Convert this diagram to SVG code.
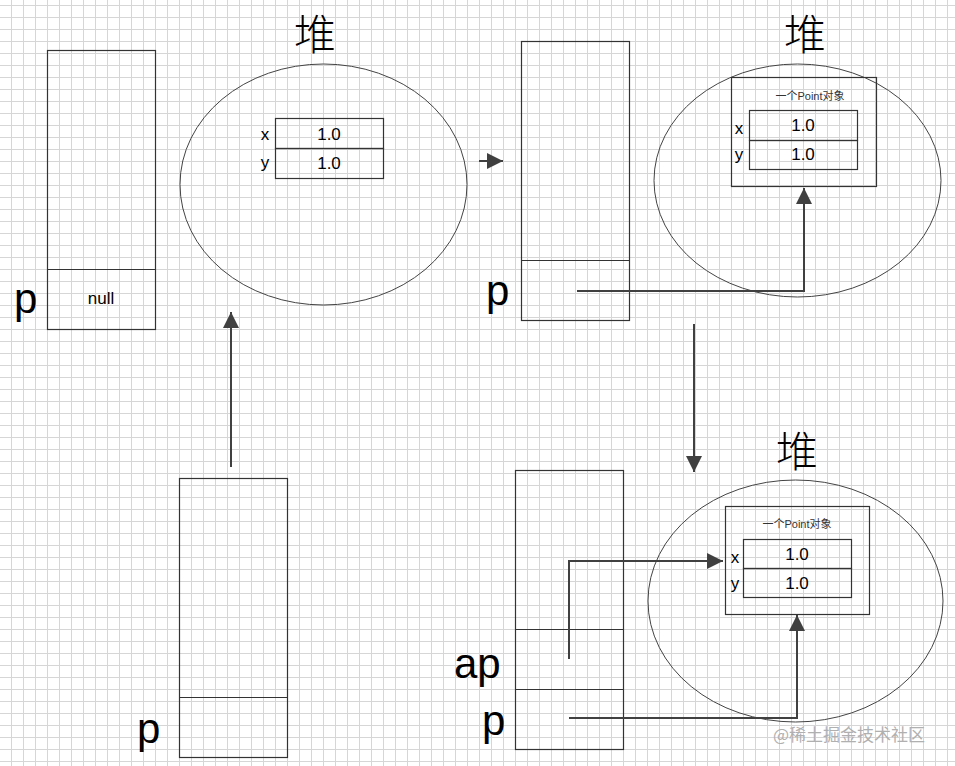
<svg xmlns="http://www.w3.org/2000/svg" width="955" height="766" viewBox="0 0 955 766">
<defs>
<pattern id="grid" patternUnits="userSpaceOnUse" x="0" y="0" width="12" height="12">
<path d="M11.5 0V12M0 5.5H12" stroke="#d6d6d6" stroke-width="1" fill="none"/>
</pattern>
<marker id="ahs" viewBox="0 0 10 10" refX="10" refY="5" markerWidth="8" markerHeight="8" orient="auto" markerUnits="strokeWidth">
<path d="M0 0L10 5L0 10Z" fill="#404040"/>
</marker>
</defs>
<style>
.box{fill:none;stroke:#333;stroke-width:1.2}
.ell{fill:none;stroke:#444;stroke-width:1}
.big{font-family:"Liberation Sans",Arial,sans-serif;font-size:42px;fill:#000}
.heap{font-family:"Noto Sans CJK SC",sans-serif;font-size:42px;font-weight:300;fill:#000;text-anchor:middle}
.val{font-family:"Liberation Sans",Arial,sans-serif;font-size:17px;fill:#000;text-anchor:middle}
.lbl{font-family:"Liberation Sans",Arial,sans-serif;font-size:17px;fill:#000;text-anchor:middle}
.ttl{font-family:"Liberation Sans","Noto Sans CJK SC",sans-serif;font-size:11px;fill:#333;text-anchor:middle}
.con{fill:none;stroke:#404040;stroke-width:2}
.wm{font-family:"Noto Sans CJK SC",sans-serif;font-size:17px;fill:#b0b0b0}
</style>
<rect width="955" height="766" fill="#fff"/>
<rect width="955" height="766" fill="url(#grid)"/>

<g id="stack1">
<rect class="box" x="47.5" y="50.5" width="108" height="279"/>
<line class="box" x1="47.5" y1="269.5" x2="155.5" y2="269.5"/>
<text class="val" x="101" y="304">null</text>
<text class="big" x="14" y="313">p</text>
</g>

<g id="heap1">
<ellipse class="ell" cx="323.5" cy="184.5" rx="143.5" ry="120.5"/>
<text class="heap" x="315" y="50">堆</text>
<rect class="box" x="275.5" y="118.5" width="108" height="30"/>
<rect class="box" x="275.5" y="148.5" width="108" height="30"/>
<text class="val" x="329" y="140">1.0</text>
<text class="val" x="329" y="169">1.0</text>
<text class="lbl" x="265" y="140">x</text>
<text class="lbl" x="265" y="168">y</text>
</g>

<g id="stack2">
<rect class="box" x="521.5" y="41.5" width="108" height="279"/>
<line class="box" x1="521.5" y1="260.5" x2="629.5" y2="260.5"/>
<text class="big" x="486" y="305">p</text>
</g>

<g id="heap2">
<ellipse class="ell" cx="797.5" cy="180.5" rx="143.5" ry="116.5"/>
<text class="heap" x="805" y="50">堆</text>
<rect class="box" x="731.5" y="77.5" width="145" height="109"/>
<text class="ttl" x="810" y="100">一个Point对象</text>
<rect class="box" x="749.5" y="110.5" width="108" height="30"/>
<rect class="box" x="749.5" y="140.5" width="108" height="29"/>
<text class="val" x="803" y="131">1.0</text>
<text class="val" x="803" y="160">1.0</text>
<text class="lbl" x="739" y="134">x</text>
<text class="lbl" x="739" y="160">y</text>
</g>

<g id="stack3">
<rect class="box" x="179.5" y="478.5" width="108" height="279"/>
<line class="box" x1="179.5" y1="697.5" x2="287.5" y2="697.5"/>
<text class="big" x="137" y="743">p</text>
</g>

<g id="stack4">
<rect class="box" x="515.5" y="470.5" width="108" height="279"/>
<line class="box" x1="515.5" y1="629.5" x2="623.5" y2="629.5"/>
<line class="box" x1="515.5" y1="689.5" x2="623.5" y2="689.5"/>
<text class="big" x="454" y="678">ap</text>
<text class="big" x="482" y="735">p</text>
</g>

<g id="heap3">
<ellipse class="ell" cx="795.5" cy="601" rx="147.5" ry="121"/>
<text class="heap" x="797" y="467">堆</text>
<rect class="box" x="725.5" y="506.5" width="144" height="108"/>
<text class="ttl" x="797" y="528">一个Point对象</text>
<rect class="box" x="743.5" y="539.5" width="108" height="29"/>
<rect class="box" x="743.5" y="568.5" width="108" height="29"/>
<text class="val" x="797" y="560">1.0</text>
<text class="val" x="797" y="589">1.0</text>
<text class="lbl" x="735" y="563">x</text>
<text class="lbl" x="735" y="589">y</text>
</g>

<g id="connectors">
<line class="con" x1="479" y1="161" x2="503" y2="161" marker-end="url(#ahs)"/>
<line class="con" x1="231" y1="467" x2="231" y2="312" marker-end="url(#ahs)"/>
<line class="con" x1="694" y1="324" x2="694" y2="472" marker-end="url(#ahs)"/>
<polyline class="con" points="577,291 804,291 804,188" marker-end="url(#ahs)"/>
<polyline class="con" points="569,659 569,561 723,561" marker-end="url(#ahs)"/>
<polyline class="con" points="569,718 797,718 797,615" marker-end="url(#ahs)"/>
</g>

<text class="wm" x="773" y="741">@稀土掘金技术社区</text>
</svg>
